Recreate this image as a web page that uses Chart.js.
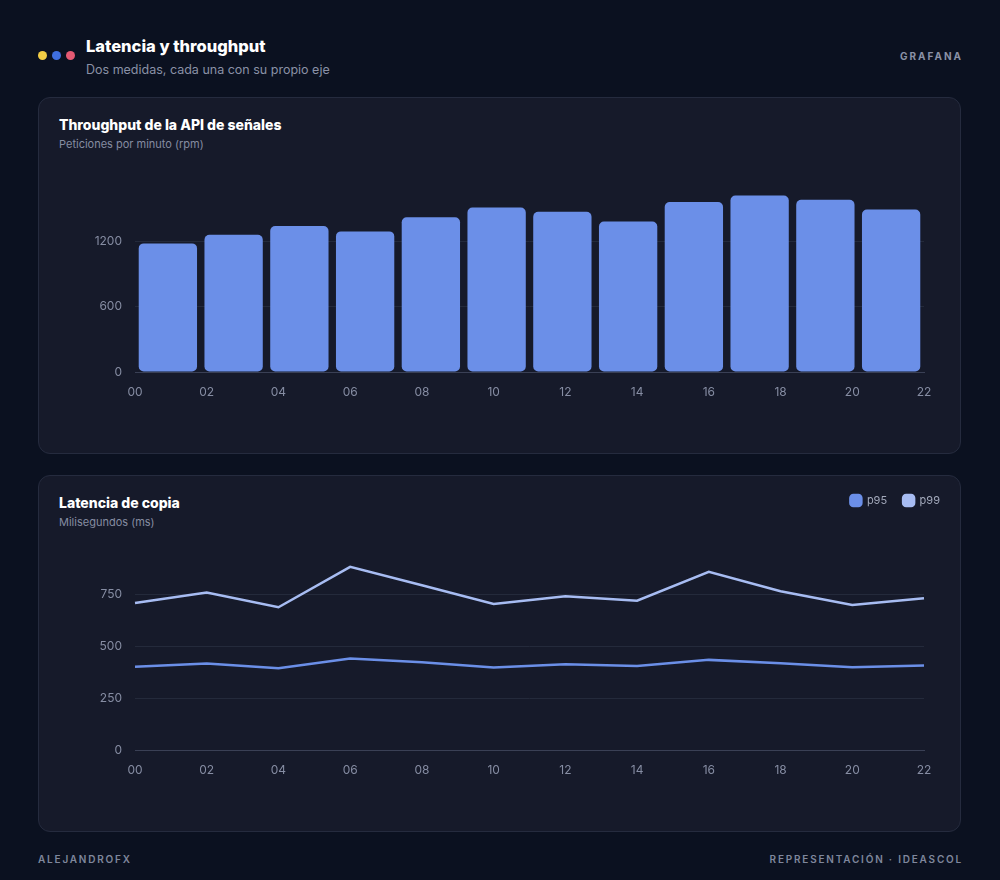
<!DOCTYPE html>
<html><head><meta charset="utf-8">
<script src="https://cdn.jsdelivr.net/npm/chart.js@4.4.1/dist/chart.umd.min.js"></script>
<style>
html,body{margin:0;padding:0;background:#0b1120;}
#page{position:relative;width:1000px;height:880px;background:#0b1120;font-family:Inter,"Noto Sans",sans-serif;overflow:hidden}
.t{position:absolute;line-height:1;white-space:nowrap}
.dot{position:absolute;width:9px;height:9px;border-radius:50%;top:51px}
.panel{position:absolute;left:38px;width:923px;height:357px;box-sizing:border-box;border:1px solid #252b3e;border-radius:12px;background:#161a2a}
.ptitle{left:59px;font-weight:800;font-size:14px;color:#ffffff}
.psub{left:59px;font-size:11px;color:#858ca1}
.cbox{position:absolute;left:58px;width:898px}
.foot{font-size:10px;font-weight:600;letter-spacing:1.8px;color:#7f879c;top:854px}
</style></head>
<body><div id="page">
  <div class="dot" style="left:38px;background:#f2cd45"></div>
  <div class="dot" style="left:52px;background:#3f6fe0"></div>
  <div class="dot" style="left:66px;background:#e55a73"></div>
  <div class="t" style="left:86px;top:38px;font-size:16.5px;font-weight:800;color:#fff">Latencia y throughput</div>
  <div class="t" style="left:86px;top:63.5px;font-size:12.5px;color:#8a91a6">Dos medidas, cada una con su propio eje</div>
  <div class="t" style="right:37px;top:50.5px;font-size:10px;font-weight:700;letter-spacing:2px;color:#8a91a6">GRAFANA</div>

  <div class="panel" style="top:97px"></div>
  <div class="t ptitle" style="top:118px">Throughput de la API de señales</div>
  <div class="t psub" style="top:138.5px">Peticiones por minuto (rpm)</div>
  <div class="cbox" style="top:178px;height:224px"><canvas id="c1"></canvas></div>

  <div class="panel" style="top:475px"></div>
  <div class="t ptitle" style="top:496px">Latencia de copia</div>
  <div class="t psub" style="top:516.5px">Milisegundos (ms)</div>
  <div class="cbox" style="top:479px;height:301px"><canvas id="c2"></canvas></div>

  <div class="t foot" style="left:38px">ALEJANDROFX</div>
  <div class="t foot" style="right:37px">REPRESENTACIÓN · IDEASCOL</div>
</div>
<script>
const hours = ['00','02','04','06','08','10','12','14','16','18','20','22'];
const throughput = [1180,1260,1340,1290,1420,1510,1470,1380,1560,1620,1580,1490];
const p95 = [402,418,395,442,423,398,414,406,435,419,400,408];
const p99 = [710,760,689,884,795,705,742,721,860,766,700,732];
const throughputMax = 1780, throughputStep = 600;
const latencyMax = 975, latencyStep = 250;

const tickColor = '#868da3';
const gridColor = '#242a3b';
const axisColor = '#3a4055';
const tickFont = {family: 'Inter', size: 12};
Chart.defaults.font.family = 'Inter';
Chart.defaults.animation = false;

function yAxis(max, step) {
  return {
    beginAtZero: true, max: max, bounds: 'data',
    ticks: {stepSize: step, includeBounds: false, color: tickColor, font: tickFont, padding: 13, callback: v => String(v)},
    grid: {drawTicks: false, color: c => (c.tick && c.tick.value === 0) ? axisColor : gridColor},
    border: {display: false},
    afterBuildTicks: s => { s.ticks = s.ticks.filter(t => t.value % step === 0); },
    afterFit: s => { s.width = 77; s.paddingTop = 0; s.paddingBottom = 0; }
  };
}
function xFit(s) { s.height = 30; s.paddingLeft = 0; s.paddingRight = 32; }

new Chart(document.getElementById('c1'), {
  type: 'bar',
  data: {
    labels: hours,
    datasets: [{
      label: 'rpm', data: throughput, xAxisID: 'x',
      backgroundColor: '#6b8fe8', borderRadius: 5, borderSkipped: false,
      barPercentage: 0.887, categoryPercentage: 1
    }]
  },
  options: {
    responsive: true, maintainAspectRatio: false,
    layout: {padding: 0},
    plugins: {legend: {display: false}, tooltip: {enabled: false}},
    scales: {
      x: {display: false, offset: true},
      xt: {
        type: 'category', position: 'bottom', offset: false,
        ticks: {color: tickColor, font: tickFont, padding: 13, autoSkip: false, maxRotation: 0},
        grid: {display: false, drawTicks: false},
        border: {display: true, color: axisColor},
        afterFit: xFit
      },
      y: yAxis(throughputMax, throughputStep)
    }
  }
});

const legendSpace = {
  id: 'legendSpace',
  beforeInit(chart) {
    const lg = chart.legend;
    if (!lg) return;
    const orig = lg.fit;
    lg.fit = function () { orig.call(this); this.height += 32; };
  }
};

new Chart(document.getElementById('c2'), {
  type: 'line',
  data: {
    labels: hours,
    datasets: [
      {label: 'p95', data: p95, borderColor: '#6b8fe8', backgroundColor: '#6b8fe8', borderWidth: 2.5, pointRadius: 0, tension: 0},
      {label: 'p99', data: p99, borderColor: '#a7bcf2', backgroundColor: '#a7bcf2', borderWidth: 2.5, pointRadius: 0, tension: 0}
    ]
  },
  options: {
    responsive: true, maintainAspectRatio: false,
    layout: {padding: 0},
    plugins: {
      tooltip: {enabled: false},
      legend: {
        position: 'top', align: 'end',
        labels: {color: '#a3a9bb', font: {family: 'Inter', size: 11}, boxWidth: 11, boxHeight: 11, padding: 16, useBorderRadius: true, borderRadius: 3}
      }
    },
    scales: {
      x: {
        offset: false,
        ticks: {color: tickColor, font: tickFont, padding: 13, autoSkip: false, maxRotation: 0},
        grid: {display: false, drawTicks: false},
        border: {display: true, color: axisColor},
        afterFit: xFit
      },
      y: yAxis(latencyMax, latencyStep)
    }
  },
  plugins: [legendSpace]
});
</script>
</body></html>
